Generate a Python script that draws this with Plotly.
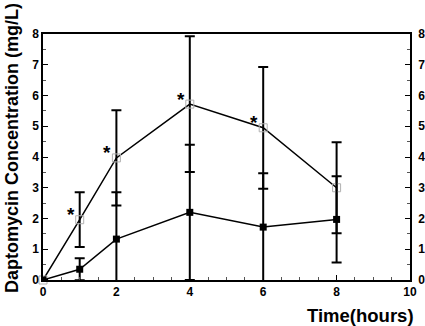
import plotly.graph_objects as go

time_h = [0, 1, 2, 4, 6, 8]
conc_open = [0, 1.96, 3.97, 5.72, 4.95, 3.0]
err_open = [0, 0.89, 1.55, 2.21, 1.98, 1.48]
conc_filled = [0, 0.35, 1.33, 2.2, 1.72, 1.97]
err_filled = [0, 0.36, 1.52, 2.2, 1.75, 1.4]
sig_x = [1, 2, 4, 6]
sig_y = [1.96, 3.97, 5.72, 4.95]

x_ticks = [0, 2, 4, 6, 8, 10]
y_ticks = [0, 1, 2, 3, 4, 5, 6, 7, 8]

FONT = "Liberation Sans"

fig = go.Figure()

fig.add_trace(go.Scatter(
    x=time_h, y=conc_open, mode="lines+markers",
    line=dict(color="black", width=1.5),
    marker=dict(symbol="square-open", size=8, color="#b0b0b0", line=dict(width=1)),
    error_y=dict(type="data", array=err_open, color="black", thickness=2, width=5),
    showlegend=False, cliponaxis=False,
))
fig.add_trace(go.Scatter(
    x=time_h, y=conc_filled, mode="lines+markers",
    line=dict(color="black", width=1.5),
    marker=dict(symbol="square", size=7, color="black"),
    error_y=dict(type="data", array=err_filled, color="black", thickness=2, width=5),
    showlegend=False,
))
# dummy trace for right axis
fig.add_trace(go.Scatter(x=[None], y=[None], yaxis="y2", showlegend=False))

axis_common = dict(
    showgrid=False, zeroline=False, showline=True, linecolor="black", linewidth=1.5,
    ticks="inside", ticklen=5, tickcolor="black", automargin=False,
    tickfont=dict(family=FONT, size=12, color="black", weight="bold"),
    minor=dict(ticks="inside", ticklen=3, tickcolor="#555555", dtick=0.5),
)

annotations = [
    dict(text="*", x=sx, y=sy, xref="x", yref="y", xshift=-9, yshift=5,
         showarrow=False, font=dict(family=FONT, size=19, color="black", weight="bold"))
    for sx, sy in zip(sig_x, sig_y)
]
annotations += [
    dict(text="Time(hours)", xref="paper", yref="paper", x=1.015, y=-0.093,
         xanchor="right", yanchor="top", showarrow=False,
         font=dict(family=FONT, size=18.5, color="black", weight="bold")),
    dict(text="Daptomycin Concentration (mg/L)", xref="paper", yref="paper",
         x=-0.085, y=0.536, textangle=-90, xanchor="center", yanchor="middle",
         showarrow=False,
         font=dict(family=FONT, size=18, color="black", weight="bold")),
]

fig.update_layout(
    width=425, height=326,
    margin=dict(l=43, r=15, t=34, b=46),
    plot_bgcolor="white", paper_bgcolor="white",
    xaxis=dict(range=[0, 10], tickvals=x_ticks, mirror=True, **axis_common),
    yaxis=dict(range=[0, 8], tickvals=y_ticks, **axis_common),
    yaxis2=dict(range=[0, 8], tickvals=y_ticks, overlaying="y", side="right",
                ticklabelstandoff=4, **axis_common),
    annotations=annotations,
)

fig.write_html("out.html", config={"displayModeBar": False},
               post_script="document.body.style.margin='0';document.body.style.overflow='hidden';")
